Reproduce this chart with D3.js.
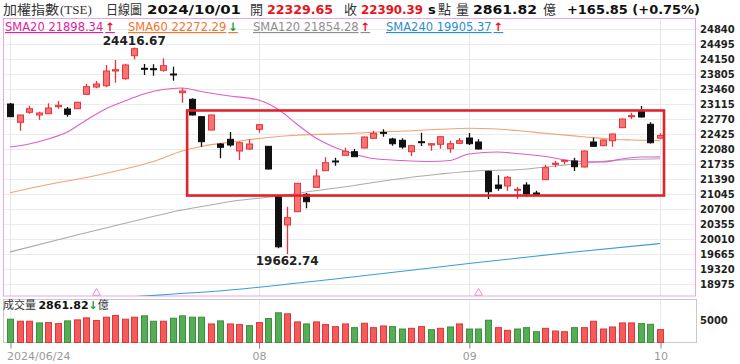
<!DOCTYPE html>
<html>
<head>
<meta charset="utf-8">
<script src="https://cdn.jsdelivr.net/npm/d3@7"></script>
<style>
  body { margin: 0; background: #fff; }
  svg { display: block; font-family: "DejaVu Sans", Verdana, sans-serif; }
</style>
</head>
<body>
<svg id="chart" width="740" height="364"></svg>
<script>
// 交易日
const dates = [
  "06/24","06/25","06/26","06/27","06/28",
  "07/01","07/02","07/03","07/04","07/05",
  "07/08","07/09","07/10","07/11","07/12",
  "07/15","07/16","07/17","07/18","07/19",
  "07/22","07/23","07/26","07/29","07/30","07/31",
  "08/01","08/02","08/05","08/06","08/07","08/08","08/09",
  "08/12","08/13","08/14","08/15","08/16",
  "08/19","08/20","08/21","08/22","08/23",
  "08/26","08/27","08/28","08/29","08/30",
  "09/02","09/03","09/04","09/05","09/06",
  "09/09","09/10","09/11","09/12","09/13",
  "09/16","09/18","09/19","09/20",
  "09/23","09/24","09/25","09/26","09/27",
  "09/30","10/01"
];

// OHLC
const opens = [23115,22694,22924,22862,22892,23053,23000,23007,23338,23506,
  23536,23874,23697,24226,23936,23927,23890,23805,23375,23223,
  22823,22517,22195,22303,22034,22080,22533,22142,20983,20332,
  20638,21038,21199,21581,21804,21935,22018,22103,22326,22462,
  22310,22280,22018,22248,22172,22188,22087,22211,22333,22241,
  21567,21252,21229,21137,21252,21068,21374,21728,21797,21804,
  21666,22241,22156,22271,22570,22823,22961,22648,22329.65];
const highs = [23138,22869,23076,22938,23131,23184,23046,23168,23582,23644,
  24012,24127,24042,24416.67,24035,24028,24166,23973,23476,23246,
  22839,22873,22218,22471,22253,22303,22655,22149,20999,20753,
  21300,21068,21613,21889,21880,22110,22080,22368,22501,22533,
  22340,22326,22165,22455,22211,22372,22271,22333,22448,22303,
  21581,21475,21459,21206,21314,21121,21712,21804,21827,21880,
  22045,22340,22298,22437,22782,22915,23069,22694,22441];
const lows = [22816,22501,22892,22754,22885,23007,22823,23000,23330,23476,
  23499,23605,23674,24143,23782,23766,23858,23651,23145,22850,
  22133,22505,21866,22133,21827,22057,22455,21608,19800,19662.74,
  20630,20716,21190,21574,21696,21928,21896,22091,22317,22363,
  22156,22087,21919,22149,22041,22087,21995,22202,22172,22069,
  20930,21121,21121,20930,20983,21010,21367,21659,21728,21574,
  21655,22133,22149,22133,22563,22770,22805,22206,22303];
const closes = [22823,22862,23007,22908,23023,23085,22878,23154,23513,23575,
  23874,23904,24012,24387,23920,23913,23996,23789,23414,22862,
  22248,22862,22119,22172,22225,22195,22639,21620,19830.88,20501.16,
  21291,20868,21459,21765,21788,22027,21903,22356,22441,22448,
  22202,22126,22156,22225,22202,22363,22202,22271,22202,22080,
  21098,21176,21429,21153,21045,21022,21650,21751,21820,21673,
  22034,22142,22287,22425,22770,22846,22816,22224.54,22390.39];
const prevClose = 23253;

// 成交量(億)
const volumes = [5175,4725,4725,4350,4425,4200,4800,5025,5475,4875,
  5625,6000,5175,5625,5925,4725,4725,5400,5925,5625,
  5625,4125,4800,4125,3975,3750,4425,5325,6600,6375,
  4575,4125,4575,3975,3525,4125,3300,4275,3300,3675,
  3525,3000,3150,3525,2850,3150,3450,4125,3000,3000,
  4950,3300,2700,3000,3300,2400,3150,2550,2400,3300,
  3300,4725,3000,3450,4350,4350,4200,4050,2861.82];

// 均線 [交易日序號, 值]
const sma20 = [[0,22126],[2,22195],[4,22310],[6,22471],[8,22747],[10,23000],[12,23184],
  [14,23345],[16,23448],[18,23483],[20,23402],[23,23299],[26,23207],[28,23000],[30,22655],
  [32,22333],[34,22114],[36,21965],[38,21861],[41,21815],[44,21792],[46,21815],[48,21965],
  [51,22011],[53,21976],[56,21907],[59,21804],[62,21781],[64,21850],[66,21896],[68,21898.34]];
const sma60 = [[0,21075],[4,21263],[9,21470],[12,21620],[15,21792],[18,22034],[20,22137],
  [24,22264],[27,22344],[30,22395],[36,22441],[38,22464],[42,22501],[45,22533],[48,22556],
  [51,22540],[53,22505],[56,22441],[60,22363],[63,22303],[65,22287],[68,22272.29]];
const sma120 = [[0,19711],[7,20102],[13,20424],[18,20677],[21,20792],[24,20900],[28,20992],
  [31,21091],[36,21240],[38,21309],[42,21429],[45,21505],[49,21581],[53,21602],[56,21666],
  [60,21751],[63,21813],[68,21854.28]];
const sma240 = [[0,18492],[14,18699],[23,18837],[34,19090],[48,19446],[58,19688],[68,19905.37]];

// 刻度
const yTicks = [24840,24495,24150,23805,23460,23115,22770,22425,22080,21735,21390,21045,20700,20355,20010,19665,19320,18975];
const volTicks = [5000];
const monthTicks = ["06/24","08/01","09/02","10/01"];
const monthLabels = ["2024/06/24","08","09","10"];

// 標記
const markIdx = [9, 49];
const boxRange = {from: 19, to: 68, top: 22966, bottom: 21010};

const svg = d3.select("#chart");
const cjk = '"Noto Sans CJK TC", "Noto Sans CJK SC", sans-serif';

const frame = {left: 3, top: 18.5, right: 695, bottom: 296};
const vframe = {left: 3, top: 299.5, right: 696, bottom: 342.5};

const x = d3.scalePoint().domain(dates).range([10, 660]);
const y = d3.scaleLinear().domain([18975, 24840]).range([284, 29]);
const vy = d3.scaleLinear().domain([0, 5000]).range([342.5, 320]);
const px = i => Math.round(x(dates[i]));

svg.append("defs").append("clipPath").attr("id", "clipMain")
  .append("rect")
  .attr("x", frame.left).attr("y", frame.top)
  .attr("width", frame.right - frame.left).attr("height", frame.bottom - frame.top);

// grid
const grid = svg.append("g");
grid.selectAll(".hg").data(yTicks).enter().append("line")
  .attr("x1", frame.left).attr("x2", frame.right)
  .attr("y1", d => Math.round(y(d)) + 0.5).attr("y2", d => Math.round(y(d)) + 0.5)
  .style("stroke", "#ebebeb");
grid.selectAll(".vg").data(monthTicks).enter().append("line")
  .attr("x1", d => Math.round(x(d)) + 0.5).attr("x2", d => Math.round(x(d)) + 0.5)
  .attr("y1", frame.top).attr("y2", frame.bottom)
  .style("stroke", "#e6e6e6");
grid.selectAll(".vg2").data(monthTicks).enter().append("line")
  .attr("x1", d => Math.round(x(d)) + 0.5).attr("x2", d => Math.round(x(d)) + 0.5)
  .attr("y1", vframe.top).attr("y2", vframe.bottom)
  .style("stroke", "#ececec");

// frames
svg.append("rect")
  .attr("x", frame.left + 0.5).attr("y", frame.top)
  .attr("width", frame.right - frame.left).attr("height", frame.bottom - frame.top)
  .style("fill", "none").style("stroke", "#e9a6e6");
svg.append("rect")
  .attr("x", vframe.left + 0.5).attr("y", vframe.top)
  .attr("width", vframe.right - vframe.left).attr("height", vframe.bottom - vframe.top)
  .style("fill", "none").style("stroke", "#c9c9c9");

// moving averages
const plot = svg.append("g").attr("clip-path", "url(#clipMain)");
const maLine = d3.line()
  .x(d => x(dates[d[0]]))
  .y(d => y(d[1]))
  .curve(d3.curveMonotoneX);
[[sma240, "#3d9bd8"], [sma120, "#ababab"], [sma60, "#f2a273"], [sma20, "#e25ccb"]].forEach(([s, c]) => {
  plot.append("path").attr("d", maLine(s))
    .style("fill", "none").style("stroke", c).style("stroke-width", 1.1);
});

// candles
const idx = d3.range(dates.length);
const up = i => closes[i] >= opens[i];
const candles = plot.selectAll(".candle").data(idx).enter().append("g");
candles.append("line")
  .attr("x1", i => px(i) + 0.5).attr("x2", i => px(i) + 0.5)
  .attr("y1", i => y(highs[i])).attr("y2", i => y(lows[i]))
  .style("stroke", i => up(i) ? "#e8343a" : "#111")
  .style("stroke-width", 1.3);
candles.append("rect")
  .attr("x", i => px(i) - 2.5)
  .attr("y", i => y(Math.max(opens[i], closes[i])))
  .attr("width", 6)
  .attr("height", i => Math.max(1, Math.abs(y(opens[i]) - y(closes[i]))))
  .style("fill", i => up(i) ? "#f77474" : "#111")
  .style("stroke", i => up(i) ? "#e8343a" : "#111");

// high / low labels
const hiI = d3.maxIndex(highs), loI = d3.minIndex(lows);
svg.append("text").attr("x", x(dates[hiI])).attr("y", y(highs[hiI]) - 2)
  .attr("text-anchor", "middle").style("font-size", "12px").style("font-weight", "bold")
  .style("fill", "#222").text(highs[hiI].toFixed(2));
svg.append("text").attr("x", x(dates[loI])).attr("y", y(lows[loI]) + 11)
  .attr("text-anchor", "middle").style("font-size", "12px").style("font-weight", "bold")
  .style("fill", "#222").text(lows[loI].toFixed(2));

// red box
const bx0 = x(dates[boxRange.from]) - 4.5, bx1 = x(dates[boxRange.to]) + 4;
svg.append("rect")
  .attr("x", bx0).attr("y", y(boxRange.top))
  .attr("width", bx1 - bx0).attr("height", y(boxRange.bottom) - y(boxRange.top))
  .style("fill", "none").style("stroke", "#e0242c").style("stroke-width", 2.6);

// triangles
svg.selectAll(".tri").data(markIdx).enter().append("path")
  .attr("d", d3.symbol().type(d3.symbolTriangle).size(26))
  .attr("transform", i => `translate(${px(i) + 0.5},${frame.bottom - 3})`)
  .style("fill", "#fff").style("stroke", "#f08cc8");

// y axis
const yAxis = d3.axisRight(y).tickValues(yTicks).tickSize(0).tickPadding(5).tickFormat(d3.format("d"));
const yAxisDraw = svg.append("g").attr("transform", `translate(${frame.right},0)`).call(yAxis);
yAxisDraw.select(".domain").remove();
yAxisDraw.selectAll("text").style("font-family", '"DejaVu Sans", sans-serif')
  .style("font-size", "10px").style("font-weight", "bold").style("fill", "#222");

// legend
const legend = svg.append("g").style("font-size", "11.5px");
const legendItems = [
  [5, "SMA20 21898.34", "#e2239f", "↑", "#e8141c"],
  [128, "SMA60 22272.29", "#f0782f", "↓", "#1a9a2a"],
  [253, "SMA120 21854.28", "#8f8f8f", "↑", "#e8141c"],
  [386, "SMA240 19905.37", "#2a90cf", "↑", "#e8141c"]
];
legendItems.forEach(([lx, t, c, a, ac]) => {
  const tx = legend.append("text").attr("x", lx).attr("y", 31)
    .style("text-decoration", "underline").style("fill", c);
  tx.append("tspan").text(t);
  tx.append("tspan").attr("dx", 2).text(a).style("fill", ac).style("font-weight", "bold");
});

// volume bars
const vUp = i => closes[i] >= (i === 0 ? prevClose : closes[i - 1]);
svg.selectAll(".vbar").data(idx).enter().append("rect")
  .attr("x", i => px(i) - 2.5)
  .attr("y", i => vy(volumes[i]))
  .attr("width", 6)
  .attr("height", i => vy(0) - vy(volumes[i]))
  .style("fill", i => vUp(i) ? "#f65b5b" : "#55ad55")
  .style("stroke", i => vUp(i) ? "#e0353a" : "#3d8f3d");

const vAxis = d3.axisRight(vy).tickValues(volTicks).tickSize(0).tickPadding(4).tickFormat(d3.format("d"));
const vAxisDraw = svg.append("g").attr("transform", `translate(${vframe.right},0)`).call(vAxis);
vAxisDraw.select(".domain").remove();
vAxisDraw.selectAll("text").style("font-family", '"DejaVu Sans", sans-serif')
  .style("font-size", "10px").style("font-weight", "bold").style("fill", "#222");

const vLabel = svg.append("text").attr("x", 3).attr("y", 309).style("font-size", "11px").style("fill", "#333");
vLabel.append("tspan").text("成交量 ").style("font-family", cjk);
vLabel.append("tspan").text(volumes[volumes.length - 1].toFixed(2)).style("font-weight", "bold").style("fill", "#111");
vLabel.append("tspan").text("↓").style("font-weight", "bold").style("fill", "#1a9a2a");
vLabel.append("tspan").text("億").style("font-family", cjk);

// x axis
const xAxis = d3.axisBottom(x).tickValues(monthTicks)
  .tickFormat((d, i) => monthLabels[i]).tickSize(6).tickPadding(4);
const xAxisDraw = svg.append("g").attr("transform", `translate(0.5,${vframe.bottom})`).call(xAxis);
xAxisDraw.select(".domain").remove();
xAxisDraw.selectAll("line").style("stroke", "#888");
xAxisDraw.selectAll("text").style("font-family", '"DejaVu Sans", sans-serif')
  .style("font-size", "11px").style("fill", "#999");
xAxisDraw.selectAll("text").filter((d, i) => i === 0).attr("text-anchor", "start").attr("dx", "-4");

// header
const header = svg.append("g").style("font-size", "13px");
const headerItems = [
  [3, "加權指數", "normal", "#333", cjk, 56],
  [60, "(TSE)", "normal", "#333", '"Liberation Serif", serif', null],
  [106, "日線圖", "normal", "#333", cjk, 36],
  [147, "2024/10/01", "bold", "#111", null, 94],
  [250, "開", "normal", "#333", cjk, null],
  [267, opens[opens.length - 1].toFixed(2), "bold", "#e8141c", null, 66],
  [344, "收", "normal", "#333", cjk, null],
  [361, closes[closes.length - 1].toFixed(2), "bold", "#e8141c", null, 62],
  [428, "s", "bold", "#111", null, null],
  [438, "點", "normal", "#333", cjk, null],
  [456, "量", "normal", "#333", cjk, null],
  [473, volumes[volumes.length - 1].toFixed(2), "bold", "#111", null, 64],
  [543, "億", "normal", "#333", cjk, null],
  [567, "+165.85 (+0.75%)", "bold", "#111", null, 133]
];
headerItems.forEach(([hx, t, w, c, f, len]) => {
  const tx = header.append("text").attr("x", hx).attr("y", 14)
    .style("font-weight", w).style("fill", c).text(t);
  if (f) tx.style("font-family", f);
  if (len) tx.attr("textLength", len).attr("lengthAdjust", "spacingAndGlyphs");
});
</script>
</body>
</html>
